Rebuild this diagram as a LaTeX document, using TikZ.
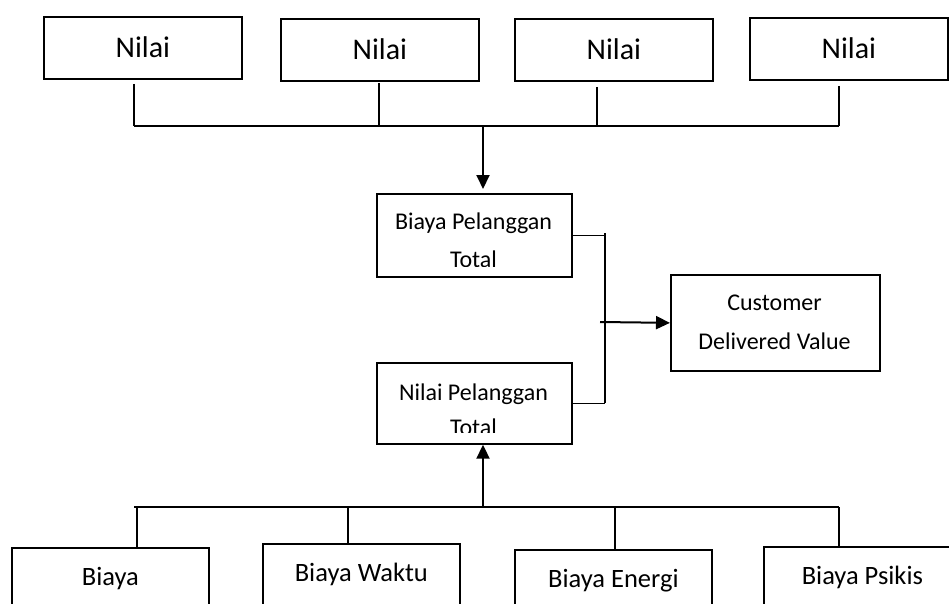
\documentclass[tikz,border=0pt]{standalone}
\usepackage{fontspec}
\setmainfont{Carlito}
\usetikzlibrary{arrows.meta}
\begin{document}
\begin{tikzpicture}[x=1pt,y=-1pt,
  topbox/.style={draw, line width=1.7pt, anchor=north west, minimum width=198pt, minimum height=62pt,
    inner sep=0pt, font=\fontsize{30}{36}\selectfont, text height=19pt, text depth=0pt},
  midbox/.style={draw, line width=1.7pt, anchor=north west, inner sep=0pt},
  midtext/.style={anchor=base, inner sep=0pt, font=\fontsize{24}{29}\selectfont},
  botbox/.style={draw, line width=1.7pt, anchor=north west, minimum width=197pt, inner xsep=0pt,
    inner ysep=21pt, font=\fontsize{26.5}{31}\selectfont, text height=16.5pt, text depth=60pt},
  conn/.style={line width=1.7pt},
  arr/.style={line width=2pt, -{Triangle[length=14pt,width=13pt]}}
]
\useasboundingbox (0,0) rectangle (949,604);
\clip (0,0) rectangle (949,604);

% top value boxes
\node[topbox] (n1) at (43,16) {Nilai};
\node[topbox] (n2) at (280,18) {Nilai};
\node[topbox] (n3) at (514,18) {Nilai};
\node[topbox] (n4) at (749,17) {Nilai};

\coordinate (t1) at (134,84);
\coordinate (t2) at (379,83);
\coordinate (t3) at (597,87);
\coordinate (t4) at (839,86);
\coordinate (bj) at (483,126);

\draw[conn] (t1) -- (t1 |- bj);
\draw[conn] (t2) -- (t2 |- bj);
\draw[conn] (t3) -- (t3 |- bj);
\draw[conn] (t4) -- (t4 |- bj);
\draw[conn] (t1 |- bj) -- (t4 |- bj);

% middle boxes
\node[midbox, minimum width=195pt, minimum height=83pt] (bpt) at (376,193) {};
\begin{scope}
  \clip (376,193) rectangle (571,266);
  \node[midtext] (bpt1) at (473.5,229.3) {Biaya Pelanggan};
  \node[midtext] (bpt2) at (473.5,267) {Total};
\end{scope}

\node[midbox, minimum width=195pt, minimum height=81pt] (npt) at (376,362) {};
\begin{scope}
  \clip (376,362) rectangle (571,432.7);
  \node[midtext] (npt1) at (473.5,400) {Nilai Pelanggan};
  \node[midtext] (npt2) at (473.5,435.5) {Total};
\end{scope}

\node[midbox, minimum width=209pt, minimum height=96pt] (cdv) at (670,274) {};
\node[midtext] (cdv1) at (774.5,310.7) {Customer};
\node[midtext] (cdv2) at (774.5,349) {Delivered Value};

\draw[arr, shorten >=4pt] (bj) -- (bj |- bpt.north);

\coordinate (vt) at (605,233);
\draw[conn] (bpt.east) -- (bpt.east -| vt);
\draw[conn] (vt) -- (npt.east -| vt);
\draw[conn] (npt.east -| vt) -- (npt.east);
\coordinate (aj) at (600,322);
\draw[arr] (aj) -- (cdv.west);

% bottom cost boxes
\node[botbox] (b1) at (11,547) {Biaya};
\node[botbox] (b2) at (262,543) {Biaya Waktu};
\node[botbox] (b3) at (514,549) {Biaya Energi};
\node[botbox] (b4) at (763,546) {Biaya Psikis};

\coordinate (u1) at (137,507);
\coordinate (u2) at (348,507);
\coordinate (u3) at (615,507);
\coordinate (u4) at (839,507);
\coordinate (ubl) at (134,507);
\coordinate (uj) at (483,507);

\draw[conn] (ubl) -- (u4);
\draw[conn] (u1) -- (u1 |- b1.north);
\draw[conn] (u2) -- (u2 |- b2.north);
\draw[conn] (u3) -- (u3 |- b3.north);
\draw[conn] (u4) -- (u4 |- b4.north);
\draw[arr] (uj) -- (uj |- npt.south);
\end{tikzpicture}
\end{document}
